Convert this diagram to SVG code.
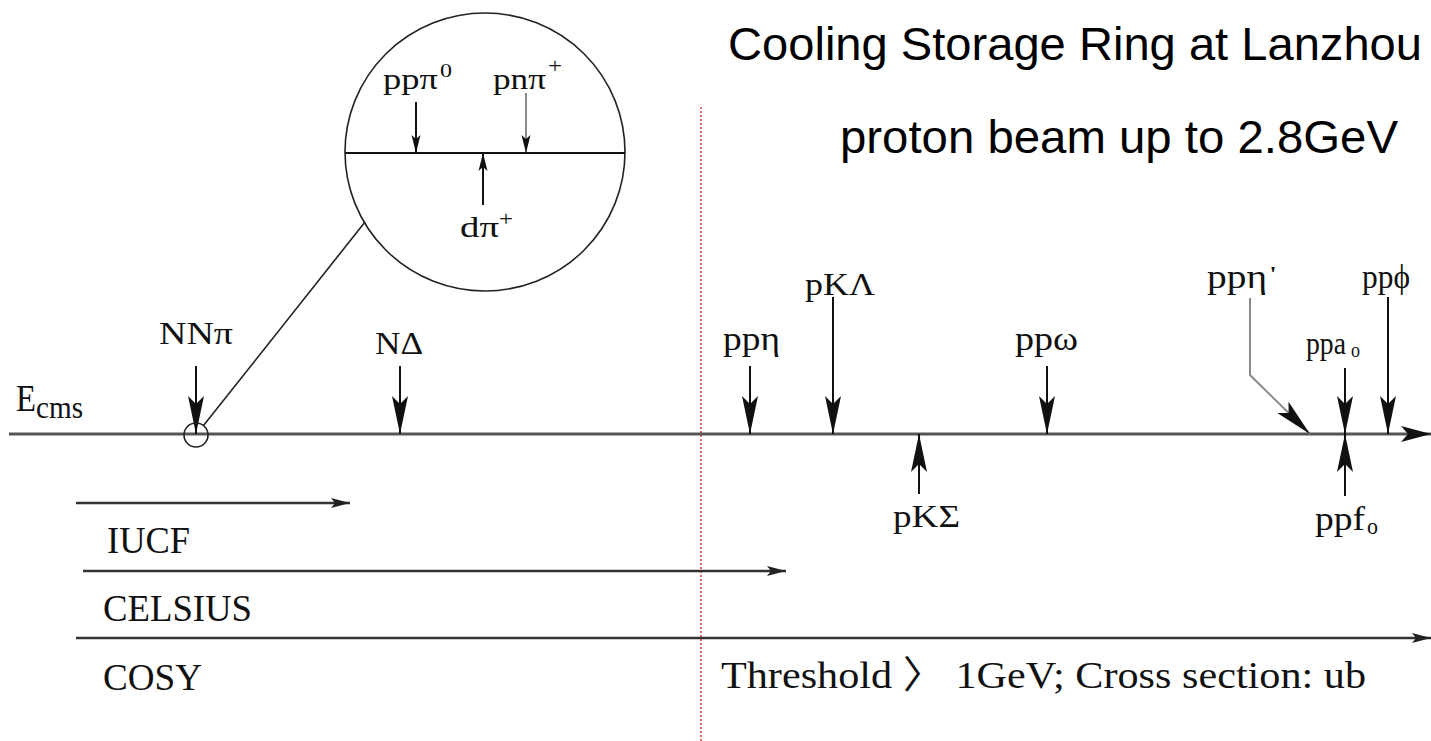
<svg xmlns="http://www.w3.org/2000/svg" width="1431" height="741" viewBox="0 0 1431 741">
<style>
.t{font-family:"Liberation Serif","Times New Roman",serif;fill:#111}
.s{font-family:"Liberation Sans",Arial,sans-serif;font-size:46.5px;fill:#000}
.ln{stroke:#111;stroke-width:2;fill:none}
.gr{stroke:#8a8a8a;stroke-width:2;fill:none}
.ax{stroke:#555;stroke-width:3;fill:none}
.bm{stroke:#333;stroke-width:2.6;fill:none}
.red{stroke:#e0141e;stroke-width:1.3;stroke-dasharray:2 2;fill:none}
.ring{stroke:#222;stroke-width:1.6;fill:none}
</style>
<defs>
<marker id="big" markerUnits="userSpaceOnUse" orient="auto" overflow="visible" markerWidth="1" markerHeight="1" refX="0" refY="0"><path d="M0,0 L-38,-8 L-30,0 L-38,8 Z" fill="#111"/></marker>
<marker id="small" markerUnits="userSpaceOnUse" orient="auto" overflow="visible" markerWidth="1" markerHeight="1" refX="0" refY="0"><path d="M0,0 L-18,-4.5 L-14,0 L-18,4.5 Z" fill="#111"/></marker>
<marker id="axh" markerUnits="userSpaceOnUse" orient="auto" overflow="visible" markerWidth="1" markerHeight="1" refX="0" refY="0"><path d="M0,0 L-30,-8 L-23,0 L-30,8 Z" fill="#111"/></marker>
<marker id="beam" markerUnits="userSpaceOnUse" orient="auto" overflow="visible" markerWidth="1" markerHeight="1" refX="0" refY="0"><path d="M0,0 L-19,-5 L-15,0 L-19,5 Z" fill="#222"/></marker>
</defs>
<rect width="1431" height="741" fill="#fff"/>

<g id="title">
<text class="s" x="728" y="60" textLength="694" lengthAdjust="spacingAndGlyphs">Cooling Storage Ring at Lanzhou</text>
<text class="s" x="840" y="153" textLength="558" lengthAdjust="spacingAndGlyphs">proton beam up to 2.8GeV</text>
</g>

<g id="connectors">
<path class="red" d="M701,107 V741"/>
<path class="ax" d="M9,434 H1431" marker-end="url(#axh)"/>
<path class="ln" d="M196,366 V434" marker-end="url(#big)"/>
<path class="ln" d="M400,366 V434" marker-end="url(#big)"/>
<path class="ln" d="M750,366 V434" marker-end="url(#big)"/>
<path class="ln" d="M833,297 V434" marker-end="url(#big)"/>
<path class="ln" d="M919,494 V434" marker-end="url(#big)"/>
<path class="ln" d="M1047,366 V434" marker-end="url(#big)"/>
<path class="gr" d="M1250,298 V375 L1310,434" marker-end="url(#big)"/>
<path class="ln" d="M1345,368 V434" marker-end="url(#big)"/>
<path class="ln" d="M1345,496 V434" marker-end="url(#big)"/>
<path class="ln" d="M1388,297 V434" marker-end="url(#big)"/>
<path class="ln" d="M416,102 V153" marker-end="url(#small)"/>
<path class="gr" d="M526,93 V153" marker-end="url(#small)"/>
<path class="ln" d="M483,205 V153" marker-end="url(#small)"/>
<path class="ring" d="M203.5,425.6 L365,222"/>
<path class="bm" d="M76,503 H350" marker-end="url(#beam)"/>
<path class="bm" d="M83,571 H786" marker-end="url(#beam)"/>
<path class="bm" d="M76,638 H1431" marker-end="url(#beam)"/>
</g>

<g id="zoom-inset">
<ellipse class="ring" cx="485" cy="152" rx="140" ry="139"/>
<path class="ln" d="M345,153 H625"/>
<circle class="ring" cx="196" cy="435" r="12"/>
</g>

<g id="axis-label">
<text class="t" x="16" y="411" font-size="38"><tspan textLength="20" lengthAdjust="spacingAndGlyphs">E</tspan><tspan dy="7" font-size="31" textLength="47" lengthAdjust="spacingAndGlyphs">cms</tspan></text>
</g>

<g id="pp-pi0"><text class="t" x="383" y="89" font-size="30"><tspan textLength="55" lengthAdjust="spacingAndGlyphs">ppπ</tspan><tspan x="440" y="77" font-size="19" textLength="12" lengthAdjust="spacingAndGlyphs">0</tspan></text></g>
<g id="pn-piplus"><text class="t" x="493" y="89" font-size="30"><tspan textLength="53" lengthAdjust="spacingAndGlyphs">pnπ</tspan><tspan x="548" y="73" font-size="22" textLength="14" lengthAdjust="spacingAndGlyphs">+</tspan></text></g>
<g id="d-piplus"><text class="t" x="460" y="237" font-size="30"><tspan textLength="39" lengthAdjust="spacingAndGlyphs">dπ</tspan><tspan x="499" y="226" font-size="22" textLength="14" lengthAdjust="spacingAndGlyphs">+</tspan></text></g>

<g id="NNpi"><text class="t" x="159" y="344" font-size="31" textLength="74" lengthAdjust="spacingAndGlyphs">NNπ</text></g>
<g id="NDelta"><text class="t" x="375" y="354" font-size="32" textLength="48" lengthAdjust="spacingAndGlyphs">NΔ</text></g>
<g id="pp-eta"><text class="t" x="723" y="350" font-size="33" textLength="57" lengthAdjust="spacingAndGlyphs">ppη</text></g>
<g id="pK-Lambda"><text class="t" x="805" y="295" font-size="32" textLength="70" lengthAdjust="spacingAndGlyphs">pKΛ</text></g>
<g id="pK-Sigma"><text class="t" x="893" y="527" font-size="32" textLength="67" lengthAdjust="spacingAndGlyphs">pKΣ</text></g>
<g id="pp-omega"><text class="t" x="1015" y="350" font-size="33" textLength="63" lengthAdjust="spacingAndGlyphs">ppω</text></g>
<g id="pp-eta-prime"><text class="t" x="1207" y="288" font-size="33"><tspan textLength="60" lengthAdjust="spacingAndGlyphs">ppη</tspan><tspan x="1270" y="281" font-size="20" textLength="6" lengthAdjust="spacingAndGlyphs">'</tspan></text></g>
<g id="pp-a0"><text class="t" x="1306" y="354" font-size="32"><tspan textLength="40" lengthAdjust="spacingAndGlyphs">ppa</tspan><tspan x="1351" y="357" font-size="22" textLength="9" lengthAdjust="spacingAndGlyphs">o</tspan></text></g>
<g id="pp-f0"><text class="t" x="1315" y="530" font-size="33"><tspan textLength="50" lengthAdjust="spacingAndGlyphs">ppf</tspan><tspan x="1367" y="534" font-size="24" textLength="11" lengthAdjust="spacingAndGlyphs">o</tspan></text></g>
<g id="pp-phi"><text class="t" x="1362" y="288" font-size="33" textLength="48" lengthAdjust="spacingAndGlyphs">ppϕ</text></g>

<g id="IUCF"><text class="t" x="107" y="553" font-size="37" textLength="83" lengthAdjust="spacingAndGlyphs">IUCF</text></g>
<g id="CELSIUS"><text class="t" x="103" y="621" font-size="37" textLength="149" lengthAdjust="spacingAndGlyphs">CELSIUS</text></g>
<g id="COSY"><text class="t" x="103" y="690" font-size="37" textLength="99" lengthAdjust="spacingAndGlyphs">COSY</text></g>
<g id="threshold-note"><text class="t" x="721" y="688" font-size="38" textLength="645" lengthAdjust="spacingAndGlyphs" style="font-family:'Liberation Serif','Noto Sans CJK SC',serif">Threshold 〉 1GeV; Cross section: ub</text></g>
</svg>
